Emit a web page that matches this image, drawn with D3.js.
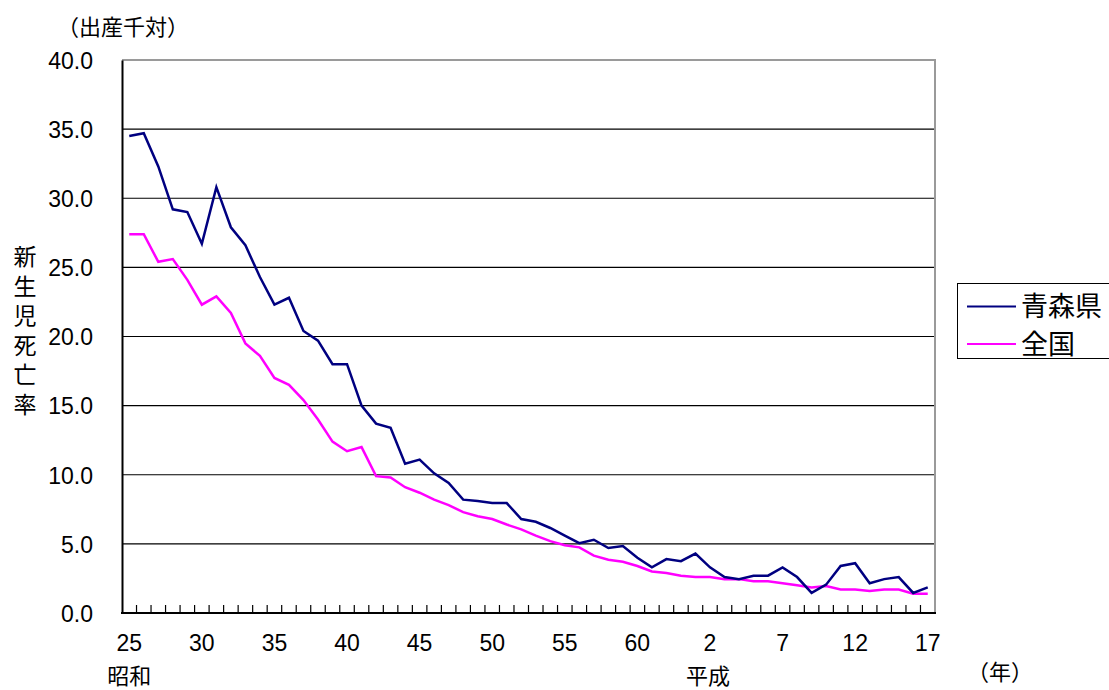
<!DOCTYPE html>
<html>
<head>
<meta charset="utf-8">
<script src="https://cdn.jsdelivr.net/npm/d3@7"></script>
<style>
  html, body { margin: 0; padding: 0; background: #fff; }
  svg { display: block; }
  .num { font-family: "Liberation Sans", Arial, sans-serif; fill: #000; }
  .jp { font-family: "Noto Sans CJK JP", "Noto Sans", sans-serif; fill: #000; }
</style>
</head>
<body>
<svg id="chart" width="1109" height="690"></svg>
<script>
// Year labels: Showa 25–63, then Heisei 1–17
const years = [
  "S25","S26","S27","S28","S29","S30","S31","S32","S33","S34",
  "S35","S36","S37","S38","S39","S40","S41","S42","S43","S44",
  "S45","S46","S47","S48","S49","S50","S51","S52","S53","S54",
  "S55","S56","S57","S58","S59","S60","S61","S62","S63",
  "H1","H2","H3","H4","H5","H6","H7","H8","H9","H10",
  "H11","H12","H13","H14","H15","H16","H17"
];

// Neonatal mortality rate (per 1,000 live births)
const aomori = [
  34.5, 34.7, 32.3, 29.2, 29.0, 26.7, 30.8, 27.9, 26.6, 24.3,
  22.3, 22.8, 20.4, 19.7, 18.0, 18.0, 15.0, 13.7, 13.4, 10.8,
  11.1, 10.1, 9.4, 8.2, 8.1, 7.95, 7.95, 6.8, 6.6, 6.15,
  5.6, 5.05, 5.3, 4.7, 4.85, 4.0, 3.3, 3.9, 3.75,
  4.3, 3.3, 2.6, 2.45, 2.7, 2.7, 3.3, 2.6, 1.45, 2.05,
  3.4, 3.6, 2.15, 2.45, 2.6, 1.45, 1.85
];
const national = [
  27.4, 27.4, 25.4, 25.6, 24.1, 22.3, 22.9, 21.7, 19.5, 18.6,
  17.0, 16.5, 15.4, 14.0, 12.4, 11.7, 12.0, 9.9, 9.8, 9.1,
  8.7, 8.2, 7.8, 7.3, 7.0, 6.8, 6.4, 6.05, 5.6, 5.2,
  4.9, 4.75, 4.15, 3.85, 3.7, 3.4, 3.0, 2.9, 2.7,
  2.6, 2.6, 2.45, 2.45, 2.3, 2.3, 2.15, 2.0, 1.85, 1.95,
  1.7, 1.7, 1.6, 1.7, 1.7, 1.4, 1.4
];

const seriesNames = ["青森県", "全国"];
const seriesColors = ["#000080", "#ff00ff"];
const yTicks = [0, 5, 10, 15, 20, 25, 30, 35, 40];
const xLabelEvery = 5;

const svg = d3.select("#chart");
const plot = { left: 122, top: 60, right: 935, bottom: 613 };

const x = d3.scaleBand().domain(years).range([plot.left, plot.right]).paddingInner(0).paddingOuter(0);
const y = d3.scaleLinear().domain([0, 40]).range([plot.bottom, plot.top]);
const cx = d => x(d) + x.bandwidth() / 2;

// horizontal gridlines
svg.append("g")
  .selectAll("line")
  .data(yTicks.filter(t => t > 0 && t < 40))
  .join("line")
  .attr("x1", plot.left).attr("x2", plot.right)
  .attr("y1", d => y(d)).attr("y2", d => y(d))
  .attr("stroke", "#000").attr("stroke-width", 1.2);

// frame: grey top/right, black left/bottom
svg.append("path")
  .attr("d", `M${plot.left},${plot.top}H${plot.right}V${plot.bottom}`)
  .attr("fill", "none").attr("stroke", "#9a9a9a").attr("stroke-width", 2);

// y axis
const yAxis = svg.append("g")
  .attr("transform", `translate(${plot.left},0)`)
  .call(d3.axisLeft(y).tickValues(yTicks).tickSize(0).tickPadding(29).tickFormat(d3.format(".1f")));
yAxis.select(".domain").attr("stroke", "#000").attr("stroke-width", 2);
yAxis.selectAll("text").attr("class", "num").style("font-size", "23px").attr("dy", "0.36em");

// x axis: ticks at category boundaries, pointing into the plot
const bounds = years.slice(1).map(d => x(d));
svg.append("g")
  .selectAll("line")
  .data(bounds)
  .join("line")
  .attr("x1", d => d).attr("x2", d => d)
  .attr("y1", plot.bottom).attr("y2", plot.bottom - 8)
  .attr("stroke", "#000").attr("stroke-width", 1.2);
svg.append("line")
  .attr("x1", plot.left - 1).attr("x2", plot.right + 1)
  .attr("y1", plot.bottom).attr("y2", plot.bottom)
  .attr("stroke", "#000").attr("stroke-width", 2);

svg.append("g")
  .selectAll("text")
  .data(years.filter((d, i) => i % xLabelEvery === 0))
  .join("text")
  .attr("class", "num")
  .attr("x", d => cx(d))
  .attr("y", 651)
  .attr("text-anchor", "middle")
  .style("font-size", "23px")
  .text(d => d.slice(1));

// era labels
svg.append("text").attr("class", "jp")
  .attr("x", cx("S25")).attr("y", 683.5).attr("text-anchor", "middle")
  .style("font-size", "22px").text("昭和");
svg.append("text").attr("class", "jp")
  .attr("x", cx("H2") - 2).attr("y", 683.5).attr("text-anchor", "middle")
  .style("font-size", "22px").text("平成");
svg.append("text").attr("class", "jp")
  .attr("x", 1000).attr("y", 680).attr("text-anchor", "middle")
  .style("font-size", "22px").text("（年）");

// unit label
svg.append("text").attr("class", "jp")
  .attr("x", 123).attr("y", 35).attr("text-anchor", "middle")
  .style("font-size", "22px").text("（出産千対）");

// vertical y title
svg.append("text").attr("class", "jp")
  .attr("x", 25).attr("y", 245)
  .style("writing-mode", "vertical-rl")
  .style("text-orientation", "upright")
  .style("letter-spacing", "6.5px")
  .style("font-size", "23px")
  .text("新生児死亡率");

// series lines
const line = d3.line().x((d, i) => cx(years[i])).y(d => y(d));
[national, aomori].forEach(s => {
  const k = s === aomori ? 0 : 1;
  svg.append("path")
    .datum(s)
    .attr("d", line)
    .attr("fill", "none")
    .attr("stroke", seriesColors[k])
    .attr("stroke-width", 2.5)
    .attr("stroke-linejoin", "miter");
});

// legend
const lg = svg.append("g");
lg.append("rect")
  .attr("x", 957.5).attr("y", 283.5).attr("width", 160).attr("height", 75)
  .attr("fill", "#fff").attr("stroke", "#000").attr("stroke-width", 1);
seriesNames.forEach((name, k) => {
  const ly = 306.5 + k * 37.5;
  lg.append("line")
    .attr("x1", 967).attr("x2", 1016).attr("y1", ly).attr("y2", ly)
    .attr("stroke", seriesColors[k]).attr("stroke-width", 2);
  lg.append("text").attr("class", "jp")
    .attr("x", 1021).attr("y", ly + 9.5)
    .style("font-size", "27px").text(name);
});
</script>
</body>
</html>
